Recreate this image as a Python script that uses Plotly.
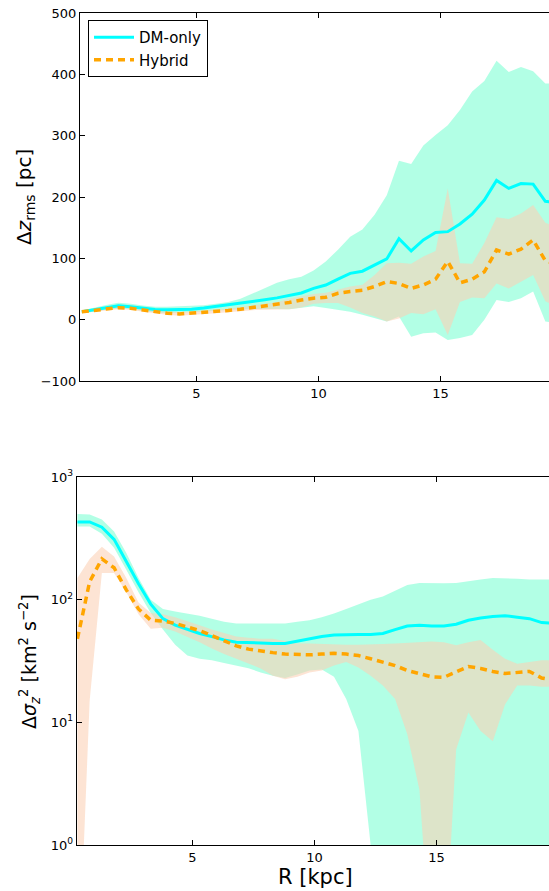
import plotly.graph_objects as go

# Radial bins [kpc]
R = [0.3, 0.8, 1.3, 1.8, 2.3, 2.8, 3.3, 3.8, 4.3, 4.8, 5.3, 5.8, 6.3, 6.8, 7.3, 7.8,
     8.3, 8.8, 9.3, 9.8, 10.3, 10.8, 11.3, 11.8, 12.3, 12.8, 13.3, 13.8, 14.3, 14.8,
     15.3, 15.8, 16.3, 16.8, 17.3, 17.8, 18.3, 18.8, 19.3, 19.8]

# ---- Top panel: Delta z_rms [pc]
dz_dm = [13, 16.5, 20, 22.5, 21, 18.5, 16.5, 16, 16.5, 17, 19, 21.5, 24, 27.5, 30, 32.5,
         35.5, 39, 43.5, 51, 56.5, 66, 75.5, 79, 89, 99, 132, 112, 130, 142,
         143.5, 156, 172, 195, 227, 214, 222, 221, 193, 190]
dz_dm_hi = [15, 20, 24, 27.5, 26, 23, 21, 21, 21.5, 22, 23.5, 26, 29, 34, 43, 52,
            60, 66, 70, 80, 95, 114, 135, 147, 171, 203, 259, 254, 284, 301,
            317, 342, 372, 389, 422, 404, 412, 405, 385, 385]
dz_dm_lo = [11, 13, 16.5, 18, 17, 14, 11.5, 10.5, 11, 12, 13.5, 15, 16, 17, 17.5, 18,
            17.5, 17, 19, 22, 19, 16, 13, 8, 2, -3, 5, -28, -22, -21,
            -33, -30, -25, 0, 32, 29, 35, 46, -3, -5]
dz_hy = [13, 15, 17.5, 19.5, 18.5, 15.5, 12.5, 10.5, 9.3, 10.5, 11.5, 13.5, 15, 17, 19.5, 22,
         24.5, 28, 32, 35, 36.5, 43, 46, 48, 54, 62, 59, 51, 56.6, 66,
         95, 60, 66, 78, 113.6, 107, 115, 130, 96, 90]
dz_hy_hi = [15, 17.5, 20, 22, 21, 18, 15, 13.5, 12.5, 13.5, 14.5, 16.5, 18, 20, 23, 26,
            29, 34, 38, 42, 44, 49, 54, 57, 73, 92, 93, 91, 103, 112,
            214, 92, 91, 125, 167, 164, 173, 187, 158, 150]
dz_hy_lo = [11, 12.5, 15, 17, 16, 13, 10, 8, 6.5, 7.5, 8.5, 10.5, 12, 14, 15.5, 16,
            16.5, 17, 20, 26, 27, 27, 20, 11, 5, -3, 2, 11, 9, 17,
            -25, 29, 36, 35, 59, 51, 62, 73, 30, 20]

# ---- Bottom panel: Delta sigma_z^2 [km^2 s^-2]
ds_dm = [430, 430, 390, 310, 205, 135, 92, 70, 62, 57, 53, 50, 47, 45, 44.5, 44,
         44, 44, 46, 48, 50, 51.5, 52, 52, 52, 53, 57, 61, 62, 61,
         61, 63, 68, 71, 73, 74, 72, 70, 65, 64]
ds_dm_hi = [500, 495, 450, 360, 240, 150, 100, 84, 80, 77, 74, 70, 66, 64, 64, 64,
            64, 64, 66, 68, 72, 77, 84, 92, 100, 106, 118, 132, 137, 136,
            136, 137, 142, 146, 150, 150, 148, 146, 146, 146]
ds_dm_lo = [395, 395, 345, 265, 175, 115, 78, 57, 43, 35, 33, 32, 30.5, 29, 27.6, 25.5,
            24, 23, 24.5, 26.5, 27, 23.5, 15.5, 8.5, 1.0, 0.05, 0.05, 0.05, 0.05, 0.05,
            0.05, 0.05, 0.05, 0.05, 0.05, 0.05, 0.05, 0.05, 0.05, 0.05]
ds_hy = [48, 140, 215, 182, 120, 84, 68, 67, 64, 60, 56, 51, 46, 42, 39.5, 38,
         37, 36, 35.5, 35.5, 36, 36.5, 36, 35, 33, 31, 29, 26.5, 25, 23.5,
         23.3, 26, 28.5, 27.5, 26, 25, 25.5, 26, 23, 22]
ds_hy_hi = [150, 215, 270, 225, 150, 95, 78, 76, 72, 67, 62, 57, 53, 50, 49, 48,
            48, 46, 44, 44, 43.5, 43, 43, 43, 43, 43.5, 44, 44.5, 45, 45.5,
            45, 42.5, 45, 47, 39, 33, 30, 31, 32, 32]
ds_hy_lo = [0.05, 15, 165, 165, 115, 76, 58, 59, 55, 50, 45, 40, 36, 33, 30, 27.5,
            24, 22.5, 23.5, 25.5, 26.5, 29, 31, 28, 24, 20, 15.5, 8, 2.8, 0.1,
            0.1, 6, 12, 8.5, 7, 14, 20, 20, 19.5, 19.5]

xticks = [5, 10, 15]
ztick_vals = [-100, 0, 100, 200, 300, 400, 500]
stick_vals = [1, 10, 100, 1000]
stick_text = ["10<sup>0</sup>", "10<sup>1</sup>", "10<sup>2</sup>", "10<sup>3</sup>"]

W, H = 549, 891
DM_FILL = "rgba(127,255,212,0.6)"
HY_FILL = "rgba(252,209,181,0.58)"
DM_COL = "#00FFFF"
HY_COL = "#FFA500"

fig = go.Figure()

def band(lo, hi, color, xa, ya):
    fig.add_trace(go.Scatter(x=R, y=lo, mode="lines", line=dict(width=0),
                             showlegend=False, hoverinfo="skip", xaxis=xa, yaxis=ya))
    fig.add_trace(go.Scatter(x=R, y=hi, mode="lines", line=dict(width=0),
                             fill="tonexty", fillcolor=color,
                             showlegend=False, hoverinfo="skip", xaxis=xa, yaxis=ya))

# top
band(dz_dm_lo, dz_dm_hi, DM_FILL, "x", "y")
band(dz_hy_lo, dz_hy_hi, HY_FILL, "x", "y")
fig.add_trace(go.Scatter(x=R, y=dz_dm, mode="lines", name="DM-only",
                         line=dict(color=DM_COL, width=3), xaxis="x", yaxis="y"))
fig.add_trace(go.Scatter(x=R, y=dz_hy, mode="lines", name="Hybrid",
                         line=dict(color=HY_COL, width=3.5, dash="7px,5px"),
                         xaxis="x", yaxis="y"))
# bottom
band(ds_dm_lo, ds_dm_hi, DM_FILL, "x2", "y2")
band(ds_hy_lo, ds_hy_hi, HY_FILL, "x2", "y2")
fig.add_trace(go.Scatter(x=R, y=ds_dm, mode="lines", showlegend=False,
                         line=dict(color=DM_COL, width=3), xaxis="x2", yaxis="y2"))
fig.add_trace(go.Scatter(x=R, y=ds_hy, mode="lines", showlegend=False,
                         line=dict(color=HY_COL, width=3.5, dash="7px,5px"),
                         xaxis="x2", yaxis="y2"))

tickfont = dict(family="DejaVu Sans", size=13, color="black")
common_ax = dict(showgrid=False, zeroline=False, showline=True, linecolor="black",
                 linewidth=1, ticks="inside", ticklen=5, tickcolor="black",
                 tickfont=tickfont, automargin=False)

fig.update_layout(
    width=W, height=H,
    margin=dict(l=0, r=0, t=0, b=0, autoexpand=False),
    paper_bgcolor="white", plot_bgcolor="white",
    font=dict(family="DejaVu Sans", color="black"),
    xaxis=dict(domain=[80 / W, 1], range=[0.225, 19.45], tickvals=xticks,
               mirror="ticks", anchor="y", **common_ax),
    yaxis=dict(domain=[1 - 381 / H, 1 - 13 / H], range=[-100, 500],
               tickvals=ztick_vals, anchor="x", **common_ax),
    xaxis2=dict(domain=[76.7 / W, 1], range=[0.27, 19.6], tickvals=xticks,
                mirror="ticks", anchor="y2", **common_ax),
    yaxis2=dict(domain=[1 - 845 / H, 1 - 477 / H], type="log", range=[0, 3],
                tickvals=stick_vals, ticktext=stick_text, anchor="x2", **common_ax),
    legend=dict(x=88 / W, y=1 - 20 / H, xanchor="left", yanchor="top",
                bgcolor="white", bordercolor="black", borderwidth=1,
                traceorder="normal", itemwidth=40,
                font=dict(family="DejaVu Sans", size=15, color="black"),
                tracegroupgap=0),
    annotations=[
        dict(text="Δ<i>z</i><sub>rms</sub> [pc]", xref="paper", yref="paper",
             x=25 / W, y=1 - 197 / H, textangle=-90, showarrow=False,
             xanchor="center", yanchor="middle",
             font=dict(family="DejaVu Sans", size=20)),
        dict(text="Δ<i>σ</i><sub><i>z</i></sub><sup>2</sup> [km<sup>2</sup> s<sup>−2</sup>]",
             xref="paper", yref="paper",
             x=29 / W, y=1 - 662 / H, textangle=-90, showarrow=False,
             xanchor="center", yanchor="middle",
             font=dict(family="DejaVu Sans", size=19)),
        dict(text="R [kpc]", xref="paper", yref="paper",
             x=315 / W, y=1 - 877 / H, showarrow=False,
             xanchor="center", yanchor="middle",
             font=dict(family="DejaVu Sans", size=21)),
    ],
)

fig.write_html("out.html")
